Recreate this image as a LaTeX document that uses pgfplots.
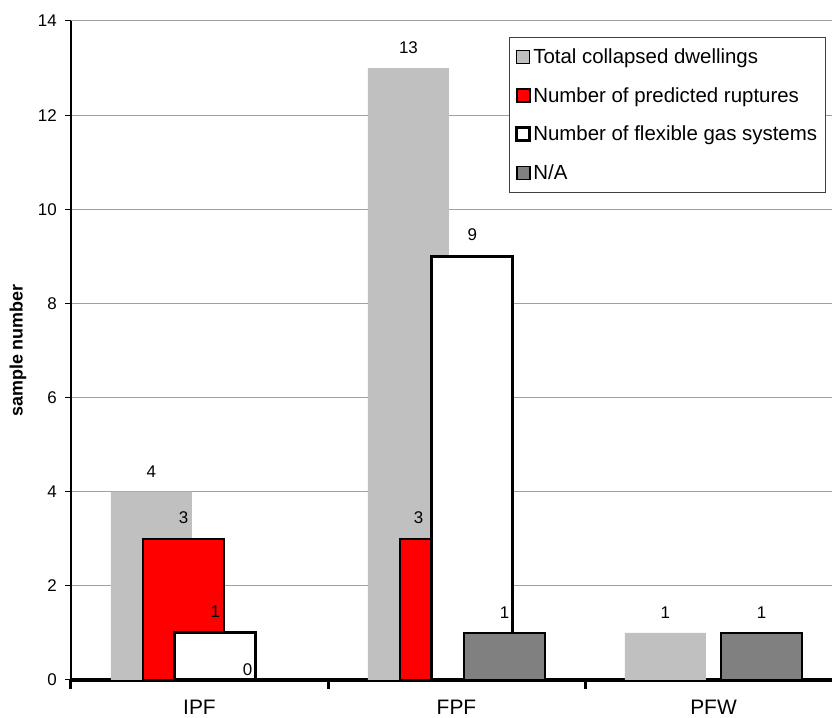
\documentclass[border=0pt]{standalone}
\usepackage{pgfplots}
\usepackage{pgfplotstable}
\usepackage{fontspec}
\pgfplotsset{compat=1.18}
\setmainfont{Liberation Sans}

\definecolor{totalgray}{HTML}{C0C0C0}
\definecolor{nagray}{HTML}{808080}
\definecolor{gridgray}{HTML}{A0A0A0}

% one table per series; x = category centre (IPF, FPF, PFW)
\pgfplotstableread{
x   y   dx  dy
0.5 4   0   0
1.5 13  0   0
2.5 1   0   0
}\totaltab
\pgfplotstableread{
x   y   dx  dy
0.5 3   0   0
1.5 3   -22 0
}\rupttab
\pgfplotstableread{
x   y   dx  dy
0.5 1   0   0
1.5 9   0   0
}\flextab
\pgfplotstableread{
x   y   dx  dy
0.5 0   0   -10
1.5 1   0   0
2.5 1   0   0
}\natab

\begin{document}
\begin{tikzpicture}
\begin{axis}[
  scale only axis,
  width=771bp, height=659bp,
  xmin=0, xmax=3, ymin=0, ymax=14,
  ybar, bar width=0.315,
  axis x line*=bottom, axis y line*=left,
  axis line style={-},
  x axis line style={line width=4bp, black},
  y axis line style={line width=1.2bp, black},
  tick align=outside,
  xtick={0.5,1.5,2.5},
  xticklabels={IPF,FPF,PFW},
  major x tick style={draw=none},
  minor xtick={0,1,2,3},
  minor x tick style={line width=3bp, black},
  minor tick length=9bp,
  ytick={0,2,...,14},
  y tick style={line width=1bp, black},
  major tick length=6bp,
  ymajorgrids,
  grid style={gridgray, line width=1bp},
  /pgf/number format/assume math mode=true,
  xticklabel style={font=\fontsize{21}{24}\selectfont, inner sep=0pt, anchor=north},
  xticklabel shift=14bp,
  yticklabel style={font=\fontsize{17}{20}\selectfont, inner sep=0pt, anchor=east},
  yticklabel shift=8bp,
  ylabel={sample number},
  ylabel style={font=\fontsize{18}{21}\selectfont\bfseries,
    at={(axis description cs:-0.0687,0.5)}, anchor=center, rotate=0},
  legend image code/.code={\draw[#1] (0bp,-6.5bp) rectangle (13bp,6.5bp);},
  legend cell align=left,
  legend style={at={(0.568,0.9757)}, anchor=north west,
    draw=black!75, line width=0.8bp, fill=white,
    font=\fontsize{20.5}{24}\selectfont,
    inner xsep=6bp, inner ysep=9bp, row sep=18.5bp,
    nodes={inner sep=2bp}},
  nodes near coords,
  visualization depends on={\thisrow{dx}\as\dx},
  visualization depends on={\thisrow{dy}\as\dy},
  every node near coord/.append style={
    font=\fontsize{17}{20}\selectfont, text=black,
    inner sep=0pt, anchor=south, yshift=14bp, yshift=\dy bp, xshift=\dx bp},
]
\coordinate (ll) at (rel axis cs:0,0);
\coordinate (ur) at (rel axis cs:1,1);

\addplot[bar shift=-0.187, fill=totalgray, draw=none]
  table[x=x, y=y] {\totaltab};
\addlegendentry{Total collapsed dwellings}

\addplot[bar shift=-0.062, fill=red, draw=black, line width=1.5bp]
  table[x=x, y=y] {\rupttab};
\addlegendentry{Number of predicted ruptures}

\addplot[bar shift=0.062, fill=white, draw=black, line width=3bp]
  table[x=x, y=y] {\flextab};
\addlegendentry{Number of flexible gas systems}

\addplot[bar shift=0.187, fill=nagray, draw=black, line width=1.5bp]
  table[x=x, y=y] {\natab};
\addlegendentry{N/A}
\end{axis}
\pgfresetboundingbox
\path[use as bounding box] ([xshift=-71bp, yshift=-38bp]ll) rectangle ([xshift=-10bp, yshift=21bp]ur);
\end{tikzpicture}
\end{document}
